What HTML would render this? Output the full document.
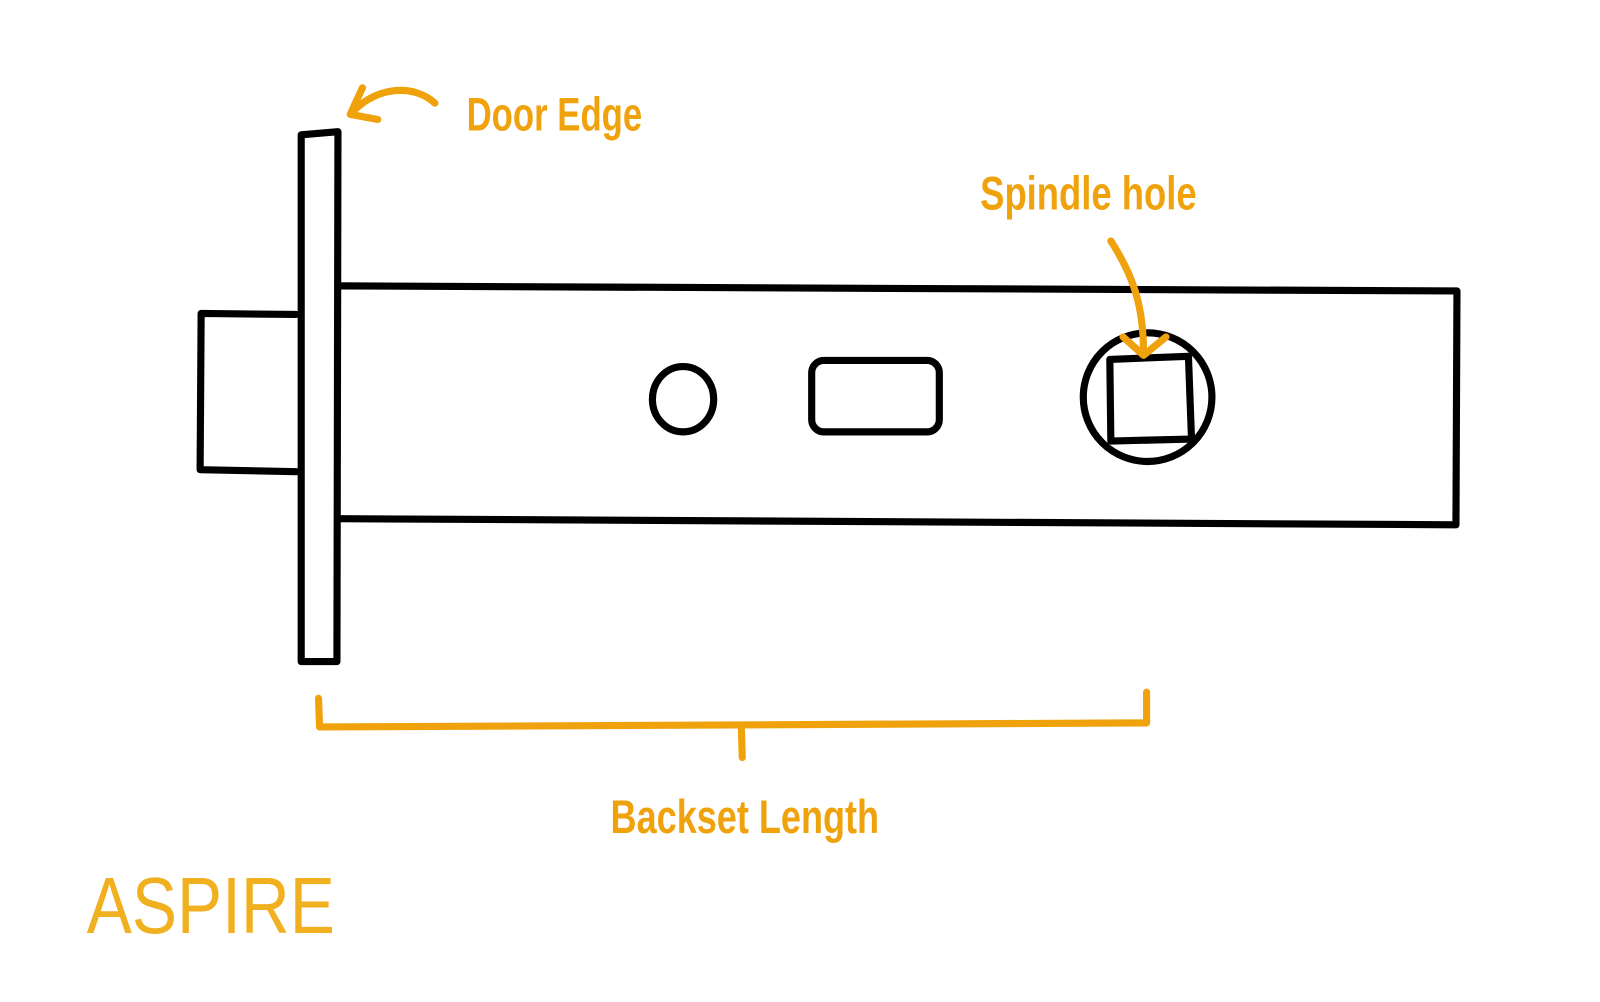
<!DOCTYPE html>
<html><head><meta charset="utf-8"><style>
html,body{margin:0;padding:0;background:#fff;}
svg{display:block;}
.t{font-family:"Liberation Sans Narrow","Liberation Sans",sans-serif;font-weight:bold;fill:#f0a20c;}
</style></head><body>
<svg width="1600" height="1002" viewBox="0 0 1600 1002" xmlns="http://www.w3.org/2000/svg">
<g transform="scale(1.021)">
<g fill="none" stroke="#000" stroke-width="7" stroke-linejoin="round" stroke-linecap="round">
  <path d="M295 132 L331 129 L330 648 L295 648 Z"/>
  <path d="M290 308 L197 307 L196 460 L290 462"/>
  <path d="M331 280 L1427 285 L1426 514 L331 508"/>
  <ellipse cx="669" cy="391" rx="30" ry="32"/>
  <rect x="795" y="353" width="125" height="70" rx="12"/>
  <circle cx="1124" cy="389" r="63"/>
  <path d="M1087 352 L1164 349 L1167 430 L1088 432 Z"/>
</g>
<g fill="none" stroke="#f0a20c" stroke-width="7" stroke-linecap="round" stroke-linejoin="round">
  <path d="M426 101 C405 82 370 85 347 108"/>
  <path d="M355 86 L343 112 L370 117"/>
  <path d="M1088 236 C1110 270 1120 300 1120 345"/>
  <path d="M1100 330 L1120 348 L1142 330"/>
  <path d="M312 684 L313 712 L1123 708 L1123 678"/>
  <path d="M726 710 L727 742"/>
</g>
<text class="t" x="457" y="128" font-size="46" textLength="172" lengthAdjust="spacingAndGlyphs">Door Edge</text>
<text class="t" x="960" y="205" font-size="46" textLength="212" lengthAdjust="spacingAndGlyphs">Spindle hole</text>
<text class="t" x="598" y="816" font-size="46" textLength="263" lengthAdjust="spacingAndGlyphs">Backset Length</text>
<text x="85" y="914" font-family="Liberation Sans, sans-serif" font-size="78" fill="#f0b020" stroke="#fff" stroke-width="2.5" paint-order="stroke" textLength="243" lengthAdjust="spacingAndGlyphs">ASPIRE</text>
</g>
</svg>
</body></html>
